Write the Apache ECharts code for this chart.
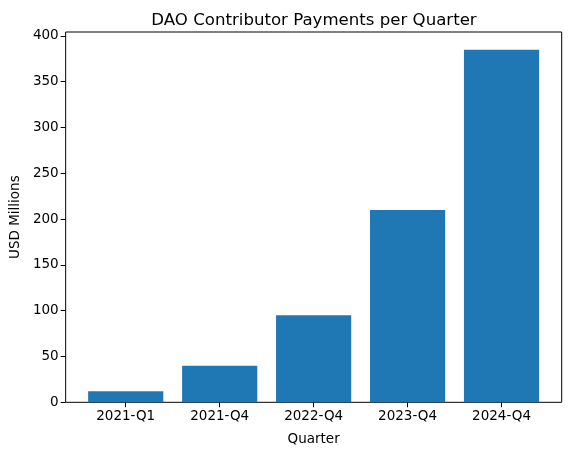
<!DOCTYPE html>
<html><head><meta charset="utf-8">
<script src="https://cdn.jsdelivr.net/npm/echarts@6/dist/echarts.min.js"></script>
<style>html,body{margin:0;padding:0;background:#fff}#c{width:571px;height:455px}</style>
</head><body><div id="c"></div>
<script>
const categories = ['2021-Q1','2021-Q4','2022-Q4','2023-Q4','2024-Q4'];
const payments = [12, 40, 95, 210, 385];
const yTicks = [0,50,100,150,200,250,300,350,400];

const font = 'DejaVu Sans';
const chart = echarts.init(document.getElementById('c'));
const yMax = Math.max(...payments) * 1.05;
chart.setOption({
  animation: false,
  title: { text: 'DAO Contributor Payments per Quarter', left: 309, textAlign: 'center', top: 7,
    textStyle: { fontFamily: font, fontSize: 16.6, fontWeight: 'normal', color: '#000' } },
  grid: [
    { left: 65.6, right: 9.3, top: 32, bottom: 52.7, show: true, borderColor: '#000', borderWidth: 1, backgroundColor: 'transparent' },
    { left: 78.75, right: 22.5, top: 32, bottom: 52.7 }
  ],
  xAxis: [
    { type: 'value', gridIndex: 0, min: -0.64, max: 4.64, show: false },
    { type: 'category', gridIndex: 1, data: categories, boundaryGap: true,
      name: 'Quarter', nameLocation: 'middle', nameGap: 30,
      nameTextStyle: { fontFamily: font, fontSize: 13.5, color: '#000' },
      axisLine: { show: false },
      axisTick: { show: true, alignWithLabel: true, length: 5, lineStyle: { color: '#000' } },
      axisLabel: { fontFamily: font, fontSize: 13.5, color: '#000', margin: 7 },
      splitLine: { show: false } }
  ],
  yAxis: [
    { type: 'value', gridIndex: 0, min: 0, max: yMax, interval: 50, position: 'left',
      name: 'USD Millions', nameLocation: 'middle', nameGap: 42,
      nameTextStyle: { fontFamily: font, fontSize: 13.5, color: '#000' },
      axisLine: { show: false, onZero: false },
      axisTick: { show: true, length: 5, lineStyle: { color: '#000' }, customValues: yTicks },
      axisLabel: { fontFamily: font, fontSize: 13.5, color: '#000', margin: 7, customValues: yTicks },
      splitLine: { show: false } },
    { type: 'value', gridIndex: 1, min: 0, max: yMax, show: false }
  ],
  series: [{
    type: 'bar', xAxisIndex: 1, yAxisIndex: 1, data: payments, barWidth: '80%',
    itemStyle: { color: '#1f77b4' }
  }]
});
</script></body></html>
